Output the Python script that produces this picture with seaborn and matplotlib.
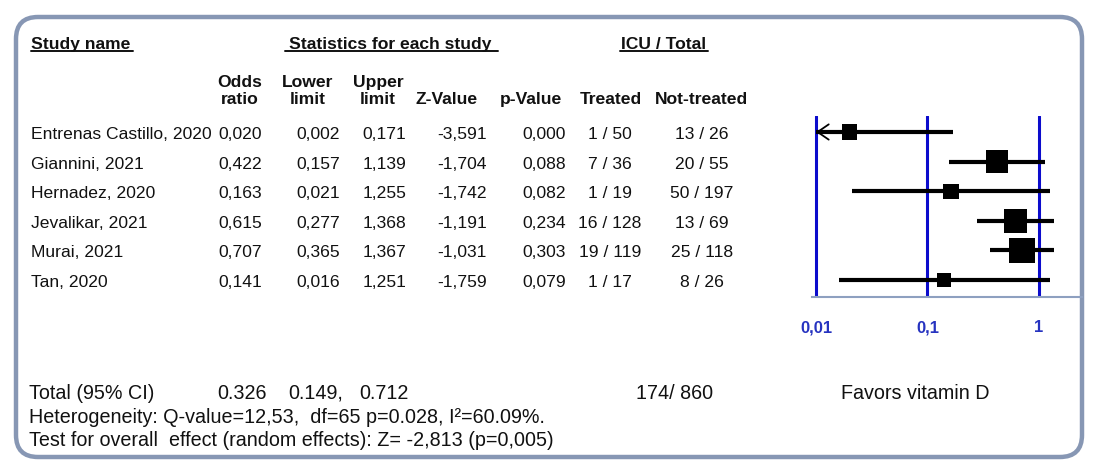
import numpy as np
import pandas as pd
import matplotlib
matplotlib.use('Agg')
import matplotlib.pyplot as plt
import seaborn as sns
from matplotlib.patches import FancyBboxPatch

# study data
studies = ['Entrenas Castillo, 2020', 'Giannini, 2021', 'Hernadez, 2020',
           'Jevalikar, 2021', 'Murai, 2021', 'Tan, 2020']
odds = [0.020, 0.422, 0.163, 0.615, 0.707, 0.141]
lower = [0.002, 0.157, 0.021, 0.277, 0.365, 0.016]
upper = [0.171, 1.139, 1.255, 1.368, 1.367, 1.251]
zval = [-3.591, -1.704, -1.742, -1.191, -1.031, -1.759]
pval = [0.000, 0.088, 0.082, 0.234, 0.303, 0.079]
treated = ['1 / 50', '7 / 36', '1 / 19', '16 / 128', '19 / 119', '1 / 17']
not_treated = ['13 / 26', '20 / 55', '50 / 197', '13 / 69', '25 / 118', '8 / 26']
weight = [9.9, 21.2, 9.9, 23.2, 27.4, 8.6]  # relative weight, box area

ticks = [0.01, 0.1, 1]
tick_labels = ['0,01', '0,1', '1']

total_label = 'Total (95% CI)'
total_vals = ['0.326', '0.149,', '0.712']
total_icu = '174/ 860'
favors = 'Favors vitamin D'
hetero = 'Heterogeneity: Q-value=12,53,  df=65 p=0.028, I\u00b2=60.09%.'
overall = 'Test for overall  effect (random effects): Z= -2,813 (p=0,005)'

df = pd.DataFrame({'study': studies, 'odds': odds, 'lower': lower, 'upper': upper,
                   'z': zval, 'p': pval, 'treated': treated, 'not_treated': not_treated,
                   'weight': weight})
df['row'] = np.arange(len(df))

sns.set_style('white')
plt.rcParams['font.family'] = ['Liberation Sans', 'DejaVu Sans']

W, H = 1099, 477
fig = plt.figure(figsize=(W / 100, H / 100), dpi=100)

# background axes in pixel coords for the table
bg = fig.add_axes([0, 0, 1, 1])
bg.set_xlim(0, W)
bg.set_ylim(H, 0)
bg.axis('off')

bg.add_patch(FancyBboxPatch((16, 18), 1066, 440,
                            boxstyle='round,pad=0,rounding_size=22',
                            fc='none', ec='#8797b4', lw=3.2))

def comma(v):
    return f'{v:.3f}'.replace('.', ',')

fs = 12.6
col = '#111111'
y0, dy = 133, 29.6
base = 6  # baseline offset from row centre

# header groups
bg.text(31, 49, 'Study name', fontsize=fs, fontweight='bold', va='baseline', color=col)
bg.plot([31, 133], [52, 52], color=col, lw=1.4)
bg.text(390, 49, 'Statistics for each study', fontsize=fs, fontweight='bold',
        va='baseline', ha='center', color=col)
bg.plot([285, 498], [52, 52], color=col, lw=1.4)
bg.text(664, 49, 'ICU / Total', fontsize=fs, fontweight='bold', va='baseline',
        ha='center', color=col)
bg.plot([620, 708], [52, 52], color=col, lw=1.4)

# column headers
hdr = [(240, 'Odds\nratio'), (308, 'Lower\nlimit'), (378, 'Upper\nlimit'),
       (447, 'Z-Value'), (531, 'p-Value'), (611, 'Treated'), (702, 'Not-treated')]
for x, t in hdr:
    bg.text(x, 104, t, fontsize=fs, fontweight='bold', ha='center', va='baseline',
            color=col, linespacing=1.2)

for _, r in df.iterrows():
    y = y0 + dy * r['row'] + base
    bg.text(31, y, r['study'], fontsize=fs, va='baseline', color=col)
    bg.text(262, y, comma(r['odds']), fontsize=fs, va='baseline', ha='right', color=col)
    bg.text(340, y, comma(r['lower']), fontsize=fs, va='baseline', ha='right', color=col)
    bg.text(406, y, comma(r['upper']), fontsize=fs, va='baseline', ha='right', color=col)
    bg.text(487, y, comma(r['z']), fontsize=fs, va='baseline', ha='right', color=col)
    bg.text(566, y, comma(r['p']), fontsize=fs, va='baseline', ha='right', color=col)
    bg.text(610, y, r['treated'], fontsize=fs, va='baseline', ha='center', color=col)
    bg.text(702, y, r['not_treated'], fontsize=fs, va='baseline', ha='center', color=col)

# bottom summary
fs2 = 14.2
bg.text(29, 399, total_label, fontsize=fs2, va='baseline', color=col)
for x, t in zip([217, 288, 359], total_vals):
    bg.text(x, 399, t, fontsize=fs2, va='baseline', color=col)
bg.text(636, 399, total_icu, fontsize=fs2, va='baseline', color=col)
bg.text(841, 399, favors, fontsize=fs2, va='baseline', color=col)
bg.text(29, 423, hetero, fontsize=fs2, va='baseline', color=col)
bg.text(29, 446, overall, fontsize=fs2, va='baseline', color=col)

# forest plot
ax = fig.add_axes([812 / W, 1 - 298 / H, 270 / W, 181 / H])
ax.patch.set_alpha(0)
ax.set_xscale('log')
ax.set_xlim(10 ** -2.036, 10 ** 0.386)
ax.set_ylim((298 - y0) / dy, -(y0 - 117) / dy)

for t in ticks:
    ax.axvline(t, color='#0c0ccc', lw=2.2, zorder=1)

xmin = ticks[0]
for _, r in df.iterrows():
    lo = max(r['lower'], xmin)
    ax.plot([lo, r['upper']], [r['row'], r['row']], color='black', lw=3,
            solid_capstyle='butt', zorder=2)
    if r['lower'] < xmin:
        ax.annotate('', xy=(xmin, r['row']), xytext=(xmin * 1.3, r['row']),
                    arrowprops=dict(arrowstyle='->,head_length=0.8,head_width=0.55',
                                    lw=1.3, color='black', shrinkA=0, shrinkB=0,
                                    mutation_scale=10), zorder=3)

c = 340 / max(weight)
sns.scatterplot(data=df, x='odds', y='row', size='weight',
                sizes=(min(weight) * c, max(weight) * c), marker='s',
                color='black', edgecolor='black', linewidth=0, legend=False,
                ax=ax, zorder=4)

for s in ['top', 'right', 'left']:
    ax.spines[s].set_visible(False)
ax.spines['bottom'].set_color('#8ea0c0')
ax.spines['bottom'].set_linewidth(1.5)
ax.set_xticks(ticks)
ax.set_xticklabels(tick_labels)
ax.xaxis.set_minor_locator(matplotlib.ticker.NullLocator())
ax.tick_params(axis='x', length=0, pad=16, labelsize=12, labelcolor='#2633c0')
for lab in ax.get_xticklabels():
    lab.set_fontweight('bold')
ax.set_yticks([])
ax.set_xlabel('')
ax.set_ylabel('')

fig.savefig('out.png', dpi=100, facecolor='white')
